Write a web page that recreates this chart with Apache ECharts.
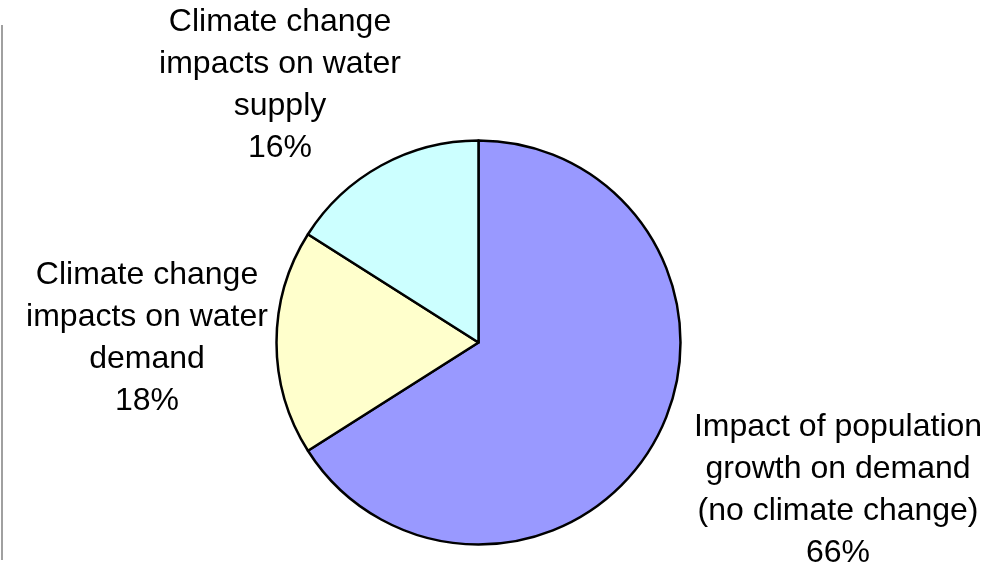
<!DOCTYPE html>
<html>
<head>
<meta charset="utf-8">
<script src="https://cdn.jsdelivr.net/npm/echarts@6/dist/echarts.min.js"></script>
<style>
  html, body { margin: 0; padding: 0; background: #fff; }
  #chart { width: 992px; height: 566px; }
</style>
</head>
<body>
<div id="chart"></div>
<script>
// slice names and values (clockwise from 12 o'clock)
const names = [
  'Impact of population\ngrowth on demand\n(no climate change)',
  'Climate change\nimpacts on water\ndemand',
  'Climate change\nimpacts on water\nsupply'
]
const values = [66, 18, 16]
const colors = ['#9999FF', '#FFFFCC', '#CCFFFF']

// where each label block sits (centre of text)
const labelPos = [[838, 490], [147, 338], [280, 85]]

const myChart = echarts.init(document.getElementById('chart'))
const option = {
  animation: false,
  graphic: [{
    type: 'line',
    shape: { x1: 2, y1: 25, x2: 2, y2: 560 },
    style: { stroke: '#a0a0a0', lineWidth: 2 }
  }],
  series: [{
    type: 'pie',
    center: [478.5, 342.5],
    radius: 202,
    startAngle: 90,
    clockwise: true,
    data: values.map((v, i) => ({
      name: names[i],
      value: v,
      itemStyle: { color: colors[i] }
    })),
    itemStyle: { borderColor: '#000', borderWidth: 2.5 },
    label: {
      show: true,
      formatter: '{b}\n{d}%',
      fontFamily: 'Liberation Sans, Arial, sans-serif',
      fontSize: 32,
      lineHeight: 42,
      color: '#000',
      align: 'center',
      overflow: 'none'
    },
    labelLine: { show: false },
    labelLayout: (params) => ({
      x: labelPos[params.dataIndex][0],
      y: labelPos[params.dataIndex][1],
      align: 'center',
      verticalAlign: 'middle'
    }),
    emphasis: { disabled: true }
  }]
}
myChart.setOption(option)
</script>
</body>
</html>
